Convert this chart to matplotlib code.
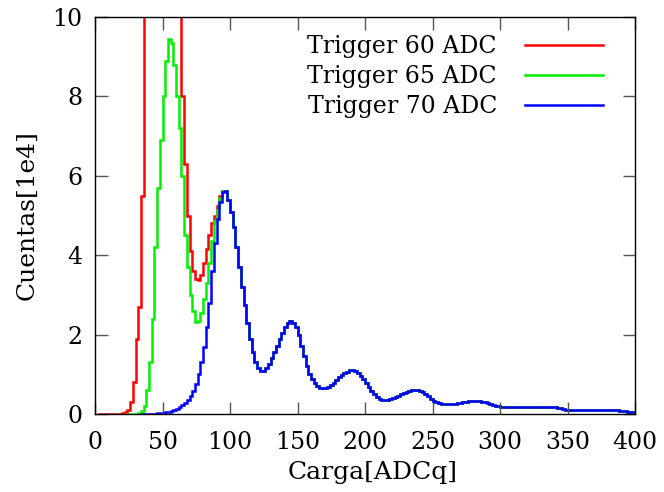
import matplotlib
matplotlib.use("Agg")
import matplotlib.pyplot as plt
import numpy as np

# Histogram counts [1e4] in 2-ADCq bins.
# Each trigger has its own head (from its first bin up to 96 ADCq);
# above 96 ADCq the three histograms coincide.
bin_width = 2

red_start = 2
red_head = [0, 0, 0, 0, 0, 0, 0, 0, 0.01, 0.02,
            0.04, 0.1, 0.3, 0.8, 1.9, 2.7, 5.5, 12, 14, 15.5,
            16.5, 17, 17.2, 17, 16.5, 15.8, 15, 14, 13, 12,
            10.5, 8.0, 6.3, 5.0, 4.1, 3.6, 3.4, 3.37, 3.5, 3.8,
            4.15, 4.5, 4.8, 5.0, 5.25, 5.5, 5.62]

green_start = 22
green_head = [0, 0, 0, 0, 0.01, 0.03, 0.08, 0.2, 0.6, 1.3,
              2.4, 4.2, 5.7, 6.9, 8.0, 8.9, 9.45, 9.35, 8.8, 8.0,
              7.2, 6.0, 4.5, 3.7, 3.0, 2.6, 2.32, 2.35, 2.55, 2.9,
              3.3, 3.8, 4.35, 4.85, 5.15, 5.45, 5.62]

blue_start = 34
blue_head = [0, 0, 0, 0.005, 0.01, 0.01, 0.02, 0.02, 0.03, 0.04,
             0.06, 0.08, 0.1, 0.13, 0.17, 0.22, 0.28, 0.35, 0.45, 0.58,
             0.75, 1.0, 1.3, 1.7, 2.2, 2.8, 3.6, 4.3, 4.9, 5.35,
             5.6]

# common part, 96 -> 400 ADCq
tail = [5.62, 5.4, 5.1, 4.7, 4.2, 3.7, 3.2, 2.75, 2.3, 1.9,
        1.55, 1.3, 1.15, 1.08, 1.08, 1.15, 1.25, 1.4, 1.55, 1.72,
        1.9, 2.05, 2.2, 2.3, 2.35, 2.3, 2.2, 1.98, 1.72, 1.45,
        1.22, 1.02, 0.88, 0.77, 0.7, 0.66, 0.65, 0.65, 0.67, 0.72,
        0.78, 0.85, 0.92, 0.98, 1.03, 1.07, 1.1, 1.1, 1.08, 1.03,
        0.96, 0.88, 0.78, 0.68, 0.58, 0.5, 0.44, 0.39, 0.36, 0.35,
        0.35, 0.37, 0.4, 0.43, 0.46, 0.5, 0.53, 0.56, 0.58, 0.6,
        0.6, 0.6, 0.58, 0.55, 0.5, 0.45, 0.39, 0.34, 0.3, 0.27,
        0.25, 0.24, 0.24, 0.24, 0.25, 0.26, 0.27, 0.28, 0.3, 0.31,
        0.32, 0.33, 0.33, 0.33, 0.32, 0.31, 0.29, 0.27, 0.25, 0.22,
        0.2, 0.19, 0.18, 0.17, 0.17, 0.17, 0.17, 0.17, 0.17, 0.17,
        0.17, 0.18, 0.18, 0.18, 0.18, 0.18, 0.18, 0.18, 0.18, 0.18,
        0.18, 0.18, 0.17, 0.16, 0.14, 0.12, 0.11, 0.1, 0.1, 0.1,
        0.09, 0.09, 0.09, 0.09, 0.09, 0.09, 0.09, 0.09, 0.09, 0.09,
        0.09, 0.09, 0.09, 0.09, 0.09, 0.09, 0.085, 0.08, 0.07, 0.06,
        0.05, 0.04]

series = [
    ("Trigger 60 ADC", red_start, red_head, "#ff0000"),
    ("Trigger 65 ADC", green_start, green_head, "#00ee00"),
    ("Trigger 70 ADC", blue_start, blue_head, "#0000ff"),
]

plt.rcParams["font.family"] = "DejaVu Serif"
fig = plt.figure(figsize=(6.64, 4.92), dpi=100)
ax = fig.add_axes([95 / 664, 1 - 414 / 492, 540 / 664, 397 / 492])

for label, start, head, color in series:
    counts = np.array(head + tail, dtype=float)
    edges = start + bin_width * np.arange(len(counts) + 1)
    ax.stairs(counts, edges, color=color, lw=1.8, label=label)

ax.set_xlim(0, 400)
ax.set_ylim(0, 10)
ax.set_xticks(np.arange(0, 401, 50))
ax.set_yticks(np.arange(0, 11, 2))
ax.tick_params(direction="in", length=9, width=1, color="#555555",
               top=True, right=True, labelsize=17)
ax.tick_params(axis="x", pad=12)
ax.tick_params(axis="y", pad=9)
for s in ax.spines.values():
    s.set_linewidth(1)

ax.set_xlabel("Carga[ADCq]", fontsize=18, labelpad=2)
ax.set_ylabel("Cuentas[1e4]", fontsize=18, labelpad=10)
ax.xaxis.set_label_coords(0.5 + 8 / 540, -0.118)

ax.legend(loc="upper right", bbox_to_anchor=(0.941, 0.955), frameon=False,
          markerfirst=False, fontsize=17, handlelength=3.3, handletextpad=1.2,
          labelspacing=0.3, borderpad=0, borderaxespad=0)

fig.savefig("out.png", dpi=100)
